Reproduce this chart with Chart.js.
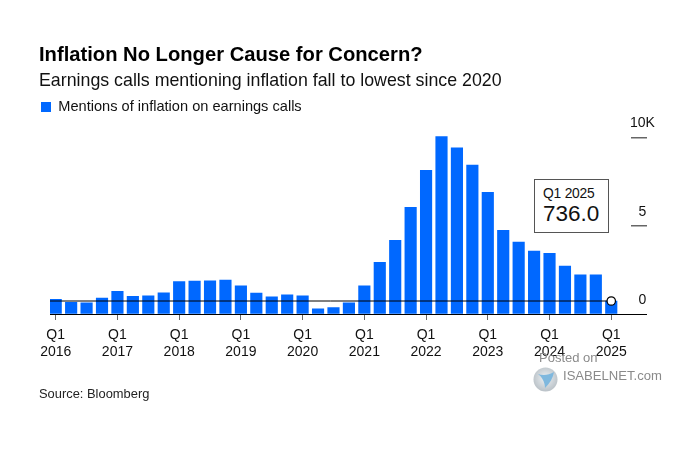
<!DOCTYPE html>
<html><head><meta charset="utf-8">
<script src="https://cdn.jsdelivr.net/npm/chart.js@4"></script>
<style>
html,body{margin:0;padding:0;background:#fff;width:700px;height:450px;overflow:hidden;font-family:"Liberation Sans",Arial,sans-serif}
#wrap{position:relative;width:700px;height:450px}
canvas{position:absolute;left:0;top:0}
.t{position:absolute;white-space:nowrap}
#call{position:absolute;left:534px;top:179px;width:73px;height:52px;border:1.5px solid #555;background:#fff;color:#111}
#call .a{position:absolute;left:8px;top:6px;font-size:13.8px;letter-spacing:-.2px}
#call .b{position:absolute;left:8px;top:21px;font-size:22.5px}
</style></head><body>
<div id="wrap">
<canvas id="c" width="700" height="450"></canvas>
<div id="call"><div class="a"></div><div class="b"></div></div>
<div class="t" style="left:39px;top:386px;font-size:12.9px;color:#222">Source: Bloomberg</div>
<div class="t" style="left:539px;top:350px;font-size:13px;color:#8a8a8a">Posted on</div>
<div class="t" style="left:563px;top:368px;font-size:13.1px;color:#8a8a8a">ISABELNET.com</div>
<svg style="position:absolute;left:533px;top:367px" width="25" height="25" viewBox="0 0 25 25"><defs><radialGradient id="g" cx=".5" cy=".45" r=".6"><stop offset="0" stop-color="#eef2f5"/><stop offset="1" stop-color="#b5bdc3"/></radialGradient></defs><circle cx="12.5" cy="12.5" r="12" fill="url(#g)"/><path d="M5 7 C10 9 16 8 21 5 C20 11 17 16 12 21 C12 15 9 10 5 7Z" fill="#7fb8de"/></svg>
</div>
<script>
const categories=["Q1 2016","Q2 2016","Q3 2016","Q4 2016","Q1 2017","Q2 2017","Q3 2017","Q4 2017","Q1 2018","Q2 2018","Q3 2018","Q4 2018","Q1 2019","Q2 2019","Q3 2019","Q4 2019","Q1 2020","Q2 2020","Q3 2020","Q4 2020","Q1 2021","Q2 2021","Q3 2021","Q4 2021","Q1 2022","Q2 2022","Q3 2022","Q4 2022","Q1 2023","Q2 2023","Q3 2023","Q4 2023","Q1 2024","Q2 2024","Q3 2024","Q4 2024","Q1 2025"];
const mentions=[830,660,640,900,1280,1000,1030,1200,1840,1860,1880,1920,1600,1180,980,1090,1030,300,360,640,1600,2930,4170,6050,8140,10060,9420,8440,6900,4740,4080,3570,3440,2710,2220,2220,736];
const yTicks=[0,5000,10000];
const yTickLabels=["0","5","10K"];
const seriesName="Mentions of inflation on earnings calls";
const BLUE="#0068ff";
const xMin=-0.37,xMax=37.28;
const last=mentions.length-1;
document.querySelector('#call .a').textContent=categories[last];
document.querySelector('#call .b').textContent=mentions[last].toFixed(1);
const font=(s,w)=>({family:'"Liberation Sans",Arial,sans-serif',size:s,weight:w||'normal',lineHeight:1.2});
new Chart(document.getElementById('c'),{
 data:{datasets:[
  {type:'line',label:'Latest',data:[{x:xMin,y:mentions[last]},{x:last,y:mentions[last]}],borderColor:'#000',borderWidth:1,
   pointRadius:[0,4.2],pointBackgroundColor:'#fff',pointBorderColor:'#000',pointBorderWidth:1.2,order:0,clip:false},
  {type:'bar',label:seriesName,data:mentions.map((v,i)=>({x:i,y:v})),backgroundColor:BLUE,borderWidth:0,barThickness:11.5,order:1}
 ]},
 options:{
  responsive:false,animation:false,
  layout:{padding:{left:39,right:0,top:0,bottom:86}},
  plugins:{
   title:{display:true,text:'Inflation No Longer Cause for Concern?',align:'start',color:'#000',font:font(20.2,'bold'),padding:{top:43,bottom:0}},
   subtitle:{display:true,text:'Earnings calls mentioning inflation fall to lowest since 2020',align:'start',color:'#111',font:font(17.8),padding:{top:3,bottom:6}},
   legend:{display:true,align:'start',labels:{boxWidth:10,boxHeight:10,padding:2,color:'#111',font:font(14.6),filter:i=>i.text===seriesName}},
   tooltip:{enabled:false}
  },
  scales:{
   x:{type:'linear',min:xMin,max:xMax,offset:false,
    afterBuildTicks:s=>{s.ticks=categories.map((c,i)=>({value:i,c})).filter(o=>o.c.startsWith('Q1')).map(o=>({value:o.value}));},
    afterFit:s=>{s.height=50;},
    border:{display:true,color:'#000',width:1},
    grid:{offset:false,drawOnChartArea:false,drawTicks:true,tickLength:6,tickColor:'#666'},
    ticks:{autoSkip:false,maxRotation:0,padding:7,color:'#111',font:font(14),callback:v=>categories[v].split(' ')}
   },
   y:{type:'linear',position:'right',min:0,max:10755,
    afterBuildTicks:s=>{s.ticks=yTicks.map(v=>({value:v}));},
    afterFit:s=>{s.width=69;},
    border:{display:false},
    grid:{drawOnChartArea:false,drawTicks:true,tickLength:16,tickColor:c=>c.tick&&c.tick.value===0?'#000':'#666',lineWidth:c=>c.tick&&c.tick.value===0?1:1.5},
    ticks:{padding:-17,crossAlign:'center',labelOffset:-14,color:'#111',font:font(14),callback:v=>yTickLabels[yTicks.indexOf(v)]}
   },
   pad:{type:'linear',position:'left',min:0,max:1,display:true,afterFit:s=>{s.width=11;},
    border:{display:false},grid:{display:false},ticks:{display:false}}
  }
 }
});
</script>
</body></html>
